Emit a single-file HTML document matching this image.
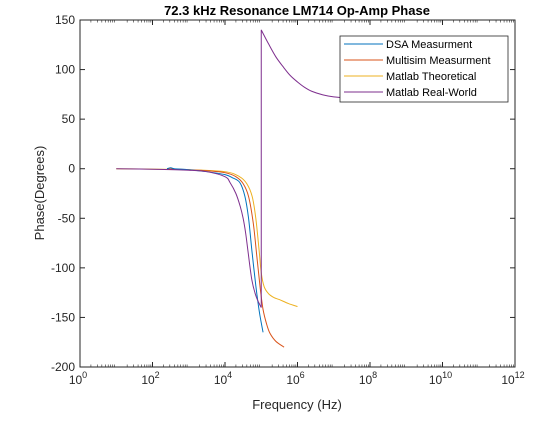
<!DOCTYPE html>
<html><head><meta charset="utf-8"><style>
body{margin:0;background:#fff;}
svg{display:block;font-family:"Liberation Sans",Arial,sans-serif;}
</style></head><body>
<svg id="chart" width="544" height="421">
<rect x="0" y="0" width="544" height="421" fill="#fff"/>
<text x="297" y="15" text-anchor="middle" font-size="13" font-weight="bold" fill="#000">72.3 kHz Resonance LM714 Op-Amp Phase</text>
<g id="axes"></g>
<g id="series"></g>
<text x="297" y="409" text-anchor="middle" font-size="13" fill="#262626">Frequency (Hz)</text>
<text transform="translate(44,193) rotate(-90)" text-anchor="middle" font-size="13" fill="#262626">Phase(Degrees)</text>
<g id="legend"></g>
</svg>
<script>
const xTicks=[0,2,4,6,8,10,12];
const yTicks=[150,100,50,0,-50,-100,-150,-200];
const seriesNames=["DSA Measurment","Multisim Measurment","Matlab Theoretical","Matlab Real-World"];
const dsaLogF=[2.4,2.5,2.6,3,3.5,4,4.2,4.41,4.55,4.65,4.74,4.85,4.95,5.05];
const dsaPhase=[0,1,0,-1,-3,-6,-9,-14,-28,-50,-82,-118,-145,-165];
const simLogF=[2.4,3,3.5,4,4.3,4.5,4.65,4.78,4.88,4.97,5.05,5.15,5.24,5.4,5.63];
const simPhase=[0,-1,-2,-4,-8,-15,-28,-55,-89,-120,-142,-157,-166,-174,-180];
const theoLogF=[1,3,4,4.4,4.6,4.75,4.85,4.94,5.0,5.08,5.2,5.35,5.5,5.75,6];
const theoPhase=[0,-1,-3,-8,-15,-28,-50,-82,-105,-119,-126,-130,-132,-136,-139];
const realLogF=[1,2,3,3.5,4,4.14,4.3,4.42,4.5,4.57,4.63,4.74,4.85,4.97,5.0];
const realPhase=[0,-0.5,-1.5,-3,-8,-14,-25,-38,-50,-65,-82,-112,-128,-138,-140];
const realHiLogF=[5.0,5.2,5.4,5.6,5.8,6,6.2,6.4,6.7,7,7.5,8];
const realHiPhase=[140,126,113,103,94,87.5,82,78,74.5,72.5,71,70.5];
const colors=["#0072BD","#D95319","#EDB120","#7E2F8E"];
const L=80,R=515,T=20,B=367;
const xs=v=>L+(v-0)/(12-0)*(R-L);
const ys=v=>T+(150-v)/(350)*(B-T);
const NS="http://www.w3.org/2000/svg";
function mk(tag,attrs,parent){const e=document.createElementNS(NS,tag);for(const k in attrs)e.setAttribute(k,attrs[k]);parent.appendChild(e);return e;}
function smooth(pts){let d='M'+pts[0][0]+','+pts[0][1];
for(let i=0;i<pts.length-1;i++){const p0=pts[Math.max(0,i-1)],p1=pts[i],p2=pts[i+1],p3=pts[Math.min(pts.length-1,i+2)];
const c1=[p1[0]+(p2[0]-p0[0])/6,p1[1]+(p2[1]-p0[1])/6],c2=[p2[0]-(p3[0]-p1[0])/6,p2[1]-(p3[1]-p1[1])/6];
d+=' C'+c1[0]+','+c1[1]+' '+c2[0]+','+c2[1]+' '+p2[0]+','+p2[1];}return d;}
const ax=document.getElementById('axes');
const box=mk('rect',{x:L,y:T,width:R-L,height:B-T,fill:'#fff',stroke:'#262626','stroke-width':1},ax);


for(let d=0;d<12;d++){for(let m=2;m<=9;m++){const x=xs(d+Math.log10(m));
mk('line',{x1:x,x2:x,y1:B,y2:B-2.5,stroke:'#262626','stroke-width':0.6},ax);
mk('line',{x1:x,x2:x,y1:T,y2:T+2.5,stroke:'#262626','stroke-width':0.6},ax);}}
xTicks.forEach(v=>{const x=xs(v);
mk('line',{x1:x,x2:x,y1:B,y2:B-5,stroke:'#262626'},ax);
mk('line',{x1:x,x2:x,y1:T,y2:T+5,stroke:'#262626'},ax);
const t=mk('text',{x:x-2,y:B+17,'text-anchor':'middle','font-size':12,fill:'#262626'},ax);


t.textContent='10';const s=mk('tspan',{dy:-6,'font-size':9},t);s.textContent=v;});
yTicks.forEach(v=>{const y=ys(v);
mk('line',{x1:L,x2:L+5,y1:y,y2:y,stroke:'#262626'},ax);
mk('line',{x1:R,x2:R-5,y1:y,y2:y,stroke:'#262626'},ax);
const t=mk('text',{x:L-5,y:y+4,'text-anchor':'end','font-size':12,fill:'#262626'},ax);


t.textContent=v;});
const sg=document.getElementById('series');
const data=[[[dsaLogF,dsaPhase]],[[simLogF,simPhase]],[[theoLogF,theoPhase]],[[realLogF,realPhase],[realHiLogF,realHiPhase]]];
const order=[2,1,0,3];
order.forEach(i=>{let d='';
data[i].forEach(([fx,py],k)=>{const pts=fx.map((f,j)=>[xs(f),ys(py[j])]);
if(k>0){d+=' L'+pts[0][0]+','+pts[0][1]+' ';d+=smooth(pts).replace(/^M[^ ]+/,'');}else d+=smooth(pts);});
const p=mk('path',{d:d,fill:'none',stroke:colors[i],'stroke-width':1},sg);

});
const lg=document.getElementById('legend');
const lb=mk('rect',{x:340,y:36,width:168,height:66,fill:'#fff',stroke:'#262626','stroke-width':0.8},lg);


seriesNames.forEach((n,i)=>{const y=44+i*16;
mk('line',{x1:344,x2:383,y1:y,y2:y,stroke:colors[i]},lg);
const t=mk('text',{x:386,y:y+4,'font-size':11,fill:'#000'},lg);


t.textContent=n;});
</script>
</body></html>
